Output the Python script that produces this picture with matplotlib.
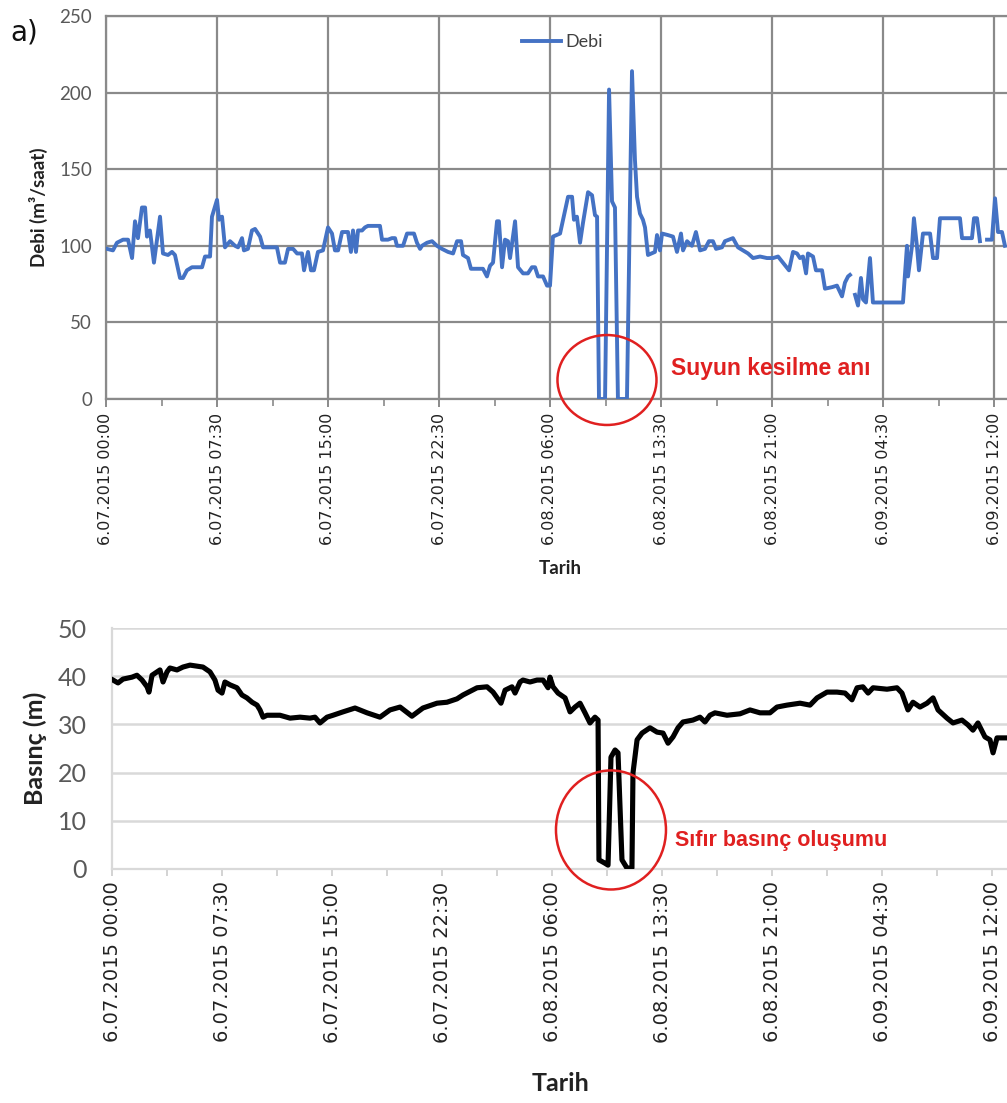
import numpy as np
import matplotlib
matplotlib.use("Agg")
import matplotlib.pyplot as plt
from matplotlib.patches import Ellipse
from matplotlib.ticker import FixedLocator, MultipleLocator

# ---------------- data ----------------
tick_labels = ["6.07.2015 00:00", "6.07.2015 07:30", "6.07.2015 15:00",
               "6.07.2015 22:30", "6.08.2015 06:00", "6.08.2015 13:30",
               "6.08.2015 21:00", "6.09.2015 04:30", "6.09.2015 12:00"]
tick_hours = [0, 7.5, 15, 22.5, 30, 37.5, 45, 52.5, 60]

debi_hours = [0.07, 0.47, 0.74, 1.15, 1.49, 1.76, 1.96, 2.16, 2.43, 2.64, 2.77, 2.97,
              3.24, 3.65, 3.85, 4.19, 4.46, 4.66, 5.00, 5.20, 5.47, 5.81, 6.49, 6.69,
              7.03, 7.16, 7.50, 7.64, 7.84, 8.04, 8.38, 8.72, 8.92, 9.19, 9.32, 9.59,
              9.86, 10.07, 10.41, 10.61, 11.55, 11.76, 12.09, 12.30, 12.64, 12.91, 13.24,
              13.38, 13.65, 13.85, 14.05, 14.32, 14.66, 15.00, 15.27, 15.47, 15.68, 15.95,
              16.35, 16.55, 16.69, 16.89, 17.03, 17.30, 17.50, 17.70, 18.51, 18.65, 19.05,
              19.32, 19.53, 19.66, 20.07, 20.34, 20.81, 21.01, 21.22, 21.35, 21.69, 22.03,
              22.36, 22.70, 23.11, 23.45, 23.72, 23.99, 24.12, 24.46, 24.66, 25.47, 25.74,
              25.95, 26.15, 26.42, 26.55, 26.76, 26.96, 27.16, 27.30, 27.64, 27.84, 28.18,
              28.51, 28.78, 28.99, 29.19, 29.53, 29.80, 30.00, 30.20, 30.68, 30.88, 31.22,
              31.49, 31.62, 31.82, 32.03, 32.23, 32.57, 32.84, 33.04, 33.18, 33.31, 33.72,
              33.99, 34.19, 34.39, 34.59, 35.20, 35.54, 35.74, 35.88, 36.08, 36.28, 36.42,
              36.62, 37.09, 37.23, 37.43, 37.57, 37.97, 38.31, 38.58, 38.85, 38.99, 39.26,
              39.59, 39.86, 40.14, 40.47, 40.74, 41.01, 41.22, 41.62, 41.82, 42.36, 42.70,
              43.04, 43.38, 43.72, 44.19, 44.66, 45.07, 45.41, 45.74, 46.15, 46.42, 46.69,
              46.89, 47.09, 47.30, 47.43, 47.77, 47.97, 48.38, 48.58, 49.05, 49.39, 49.73,
              49.93, 50.14, 50.27, 50.44, 50.61, 50.81, 51.01, 51.15, 51.35, 51.62, 51.82,
              53.85, 54.12, 54.19, 54.46, 54.59, 54.80, 54.93, 55.20, 55.68, 55.88, 56.15,
              56.35, 57.70, 57.84, 58.51, 58.65, 58.85, 59.05, 59.30, 59.53, 59.86, 60.07,
              60.27, 60.54, 60.74]
debi_values = [98, 97, 102, 104, 104, 92, 116, 105, 125, 125, 106, 110,
               89, 119, 95, 94, 96, 94, 79, 79, 84, 86, 86, 93,
               93, 119, 130, 117, 119, 99, 103, 100, 99, 105, 97, 98,
               110, 111, 106, 99, 99, 89, 89, 98, 98, 95, 95,
               84, 96, 84, 84, 96, 97, 112, 108, 97, 97, 109,
               109, 96, 110, 96, 110, 110, 112, 113, 113, 104, 104,
               105, 105, 100, 100, 108, 108, 102, 98, 100, 102, 103,
               100, 98, 96, 95, 103, 103, 94, 92, 85, 85, 80,
               87, 89, 116, 116, 86, 104, 103, 92, 116, 86, 82,
               82, 86, 86, 80, 80, 74, 74, 106, 108, 117, 132,
               132, 117, 119, 102, 115, 135, 133, 120, 119, 0, 0,
               202, 129, 125, 0, 0, 214, 156, 132, 121, 117, 112,
               94, 96, 107, 97, 108, 107, 106, 96, 108, 97, 103,
               100, 109, 97, 98, 103, 103, 98, 99, 103, 105, 99,
               97, 95, 92, 93, 92, 92, 93, 89, 84, 96, 95,
               92, 93, 82, 95, 93, 84, 84, 72, 73, 74, 67,
               76, 80, 81, np.nan, 68, 61, 79, 65, 63, 92, 63,
               63, 100, 80, 100, 118, 99, 84, 108, 108, 92, 92,
               118, 118, 105, 105, 118, 118, 103, np.nan, 104, 104, 131,
               109, 109, 100]

basinc_hours = [0.07, 0.41, 0.75, 1.36, 1.70, 2.05, 2.39, 2.52, 2.73, 3.07, 3.27, 3.48,
                3.75, 3.95, 4.43, 4.84, 5.32, 6.20, 6.68, 7.02, 7.23, 7.50, 7.70, 8.05,
                8.52, 8.86, 9.20, 9.55, 9.89, 10.09, 10.30, 10.57, 11.45, 12.14, 12.82,
                13.50, 13.84, 14.18, 14.66, 15.07, 15.55, 15.75, 16.57, 17.39, 18.27, 18.95,
                19.64, 20.45, 21.20, 22.16, 22.84, 23.52, 23.93, 24.89, 25.57, 25.98, 26.52,
                26.80, 27.27, 27.48, 27.82, 28.02, 28.50, 28.98, 29.39, 29.73, 29.86, 30.07,
                30.41, 30.89, 31.23, 31.57, 31.91, 32.25, 32.59, 32.93, 33.14, 33.20, 33.61,
                33.82, 34.02, 34.30, 34.50, 34.77, 35.11, 35.45, 35.52, 35.80, 36.14, 36.68,
                37.16, 37.57, 37.91, 38.25, 38.59, 38.93, 39.61, 40.09, 40.43, 40.77, 41.11,
                41.93, 42.82, 43.50, 44.18, 44.86, 45.34, 46.02, 46.91, 47.59, 48.07, 48.75,
                49.43, 49.98, 50.45, 50.80, 51.20, 51.55, 51.89, 52.84, 53.52, 53.86, 54.27,
                54.61, 55.09, 55.57, 55.98, 56.32, 56.93, 57.34, 57.95, 58.36, 58.70, 59.04,
                59.52, 59.86, 60.07, 60.34, 61.02]
basinc_values = [39.2, 38.6, 39.4, 39.8, 40.2, 39.2, 37.8, 36.7, 40.2, 40.9, 41.3, 38.8,
                 40.9, 41.7, 41.3, 41.9, 42.3, 41.9, 40.9, 39.2, 37.1, 36.5, 38.8, 38.2,
                 37.6, 36.1, 35.5, 34.6, 34.0, 33.0, 31.5, 31.9, 31.9, 31.3, 31.5,
                 31.3, 31.5, 30.3, 31.5, 31.9, 32.4, 32.6, 33.4, 32.4, 31.5, 33.0,
                 33.6, 31.7, 33.4, 34.4, 34.6, 35.3, 36.1, 37.6, 37.8, 36.7, 34.4,
                 37.1, 37.8, 36.5, 38.8, 39.2, 38.8, 39.2, 39.2, 37.6, 39.8, 37.8,
                 36.5, 35.5, 32.6, 33.6, 34.4, 32.4, 30.3, 31.5, 30.9, 1.9, 1.2,
                 0.8, 23.2, 24.7, 24.1, 1.9, 0.2, 0.2, 19.9, 26.8, 28.2, 29.3,
                 28.4, 28.2, 26.1, 27.4, 29.3, 30.5, 30.9, 31.5, 30.5, 31.9, 32.4,
                 31.9, 32.2, 33.0, 32.4, 32.4, 33.6, 34.0, 34.4, 34.0, 35.5, 36.7,
                 36.7, 36.5, 35.1, 37.6, 37.8, 36.5, 37.6, 37.3, 37.6, 36.5, 33.0,
                 34.6, 33.6, 34.4, 35.5, 33.0, 31.3, 30.3, 30.9, 29.9, 28.8, 30.3,
                 27.4, 26.8, 24.1, 27.2, 27.2]

# ---------------- figure ----------------
W, H = 1007, 1103
fig = plt.figure(figsize=(W / 100, H / 100), dpi=100)

def fx(px):
    return px / W

def fy(py):
    return 1 - py / H

label_font = "Lato"
blue = "#4472C4"
red = "#E02020"

# ---- top panel ----
ax1 = fig.add_axes([fx(106), fy(399), fx(1012 - 106), (399 - 16) / H])
ax1.plot(debi_hours, debi_values, color=blue, lw=2.8, label="Debi", zorder=3,
         solid_joinstyle="round")
ax1.set_xlim(0, (1012 - 106) / 14.8)
ax1.set_ylim(0, 250)
ax1.set_yticks([0, 50, 100, 150, 200, 250])
ax1.xaxis.set_major_locator(FixedLocator(tick_hours))
ax1.xaxis.set_minor_locator(MultipleLocator(3.75))
ax1.set_xticklabels(tick_labels, rotation=90, fontsize=11.5, color="#222222",
                    family="DejaVu Sans")
for lab in ax1.get_yticklabels():
    lab.set_family(label_font)
    lab.set_fontsize(13.5)
    lab.set_color("#595959")
ax1.grid(True, which="major", color="#8a8a8a", lw=1.6)
ax1.tick_params(axis="y", length=0, pad=10)
ax1.tick_params(axis="x", which="major", length=6, width=1.4, color="#8a8a8a",
                direction="out", pad=4)
ax1.tick_params(axis="x", which="minor", length=5, width=1.2, color="#8a8a8a",
                direction="out")
for s in ["left", "bottom", "top"]:
    ax1.spines[s].set_color("#8a8a8a")
    ax1.spines[s].set_linewidth(1.6)
ax1.spines["right"].set_visible(False)
ax1.set_ylabel("Debi (m³/saat)", family=label_font, fontweight="bold",
               fontsize=13.5, color="#222222")
ax1.yaxis.set_label_coords(-(106 - 48) / (1012 - 106), 0.5)
ax1.set_xlabel("Tarih", family=label_font, fontweight="bold", fontsize=13.5,
               color="#222222")
ax1.xaxis.set_label_coords((560 - 106) / (1012 - 106), -(560 - 399) / 383)
leg = ax1.legend(loc="center", bbox_to_anchor=((562 - 106) / (1012 - 106), 0.932),
                 frameon=False, handlelength=2.2, handletextpad=0.2,
                 prop={"family": "Lato", "size": 13})
for t in leg.get_texts():
    t.set_color("#404040")
ell1 = Ellipse((33.85, 12.4), 6.69, 58.7, fill=False, edgecolor=red, lw=1.8,
               clip_on=False, zorder=4)
ax1.add_patch(ell1)
ax1.text(38.2, 20, "Suyun kesilme anı", color=red, fontsize=16.5, fontweight="bold",
         family="Liberation Sans", va="center", ha="left")

# ---- bottom panel ----
ax2 = fig.add_axes([fx(112), fy(869), fx(1012 - 112), (869 - 628) / H])
ax2.plot(basinc_hours, basinc_values, color="black", lw=3.7, zorder=3,
         solid_joinstyle="round")
ax2.set_xlim(0, (1012 - 112) / 14.667)
ax2.set_ylim(0, 50)
ax2.set_yticks([0, 10, 20, 30, 40, 50])
ax2.xaxis.set_major_locator(FixedLocator(tick_hours))
ax2.xaxis.set_minor_locator(MultipleLocator(3.75))
ax2.set_xticklabels(tick_labels, rotation=90, fontsize=14, color="#222222",
                    family="DejaVu Sans")
for lab in ax2.get_yticklabels():
    lab.set_family(label_font)
    lab.set_fontsize(18)
    lab.set_color("#595959")
ax2.grid(True, axis="y", color="#d9d9d9", lw=1.8)
ax2.tick_params(axis="y", length=0, pad=18)
ax2.tick_params(axis="x", which="both", length=5, width=1.3, color="#d0d0d0",
                direction="out", pad=4)
for s in ["left", "bottom"]:
    ax2.spines[s].set_color("#d9d9d9")
    ax2.spines[s].set_linewidth(1.6)
for s in ["top", "right"]:
    ax2.spines[s].set_visible(False)
ax2.set_ylabel("Basınç (m)", family=label_font, fontweight="bold", fontsize=18,
               color="#222222")
ax2.yaxis.set_label_coords(-(112 - 47) / (1012 - 112), 0.5)
ax2.set_xlabel("Tarih", family=label_font, fontweight="bold", fontsize=18,
               color="#222222")
ax2.xaxis.set_label_coords((560 - 112) / (1012 - 112), -(1072 - 869) / 241)
ell2 = Ellipse((34.02, 8.1), 7.5, 24.7, fill=False, edgecolor=red, lw=1.8,
               clip_on=False, zorder=4)
ax2.add_patch(ell2)
ax2.text(38.4, 6.0, "Sıfır basınç oluşumu", color=red, fontsize=15.5,
         fontweight="bold", family="Liberation Sans", va="center", ha="left")

fig.text(fx(10), fy(32), "a)", fontsize=20, family="DejaVu Sans", va="center",
         ha="left", color="#111111")

fig.savefig("out.png", dpi=100)
